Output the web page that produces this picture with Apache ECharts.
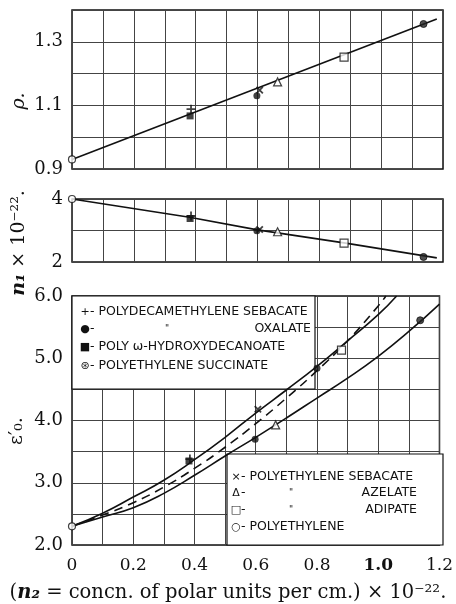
<!DOCTYPE html>
<html>
<head>
<meta charset="utf-8">
<script src="https://cdn.jsdelivr.net/npm/echarts@6/dist/echarts.min.js"></script>
<style>
  html, body { margin: 0; padding: 0; background: #fff; }
  #chart { width: 456px; height: 604px; }
</style>
</head>
<body>
<div id="chart"></div>
<script>
// ---------------- DATA ----------------
const materials = [
  'Polydecamethylene sebacate', 'Polydecamethylene oxalate', 'Poly ω-hydroxydecanoate',
  'Polyethylene succinate', 'Polyethylene sebacate', 'Polyethylene azelate',
  'Polyethylene adipate', 'Polyethylene'
];
const n2  = [0.385, 0.598, 0.382, 1.137, 0.607, 0.665, 0.880, 0.0];
const rho = [1.088, 1.130, 1.067, 1.356, 1.148, 1.174, 1.252, 0.930];
const n1  = [3.46, 2.99, 3.38, 2.16, 3.03, 2.96, 2.60, 4.00];
const eps = [3.38, 3.70, 3.35, 5.61, 4.18, 3.93, 5.13, 2.30];
// extra unlabeled point in the dielectric panel
const extraN2 = [0.80];
const extraEps = [4.84];

// fitted curves
const rhoFitX = [0, 1.18];
const rhoFitY = [0.93, 1.372];
const n1FitX = [0, 0.38, 0.6, 0.885, 1.18];
const n1FitY = [4.0, 3.42, 3.02, 2.60, 2.13];
const upperX = [0, 0.1, 0.2, 0.3, 0.4, 0.5, 0.6, 0.7, 0.8, 0.9, 1.0, 1.06];
const upperY = [2.3, 2.51, 2.77, 3.04, 3.37, 3.73, 4.12, 4.49, 4.87, 5.28, 5.70, 6.0];
const dashX  = [0, 0.1, 0.2, 0.3, 0.4, 0.5, 0.6, 0.7, 0.8, 0.9, 1.0, 1.025];
const dashY  = [2.3, 2.48, 2.68, 2.93, 3.23, 3.57, 3.95, 4.36, 4.80, 5.28, 5.84, 6.0];
const lowerX = [0, 0.1, 0.2, 0.3, 0.4, 0.5, 0.6, 0.7, 0.8, 0.9, 1.0, 1.1, 1.2];
const lowerY = [2.3, 2.45, 2.60, 2.83, 3.12, 3.43, 3.73, 4.04, 4.36, 4.68, 5.03, 5.43, 5.87];

// tick labels
const xTickLabels = ['0', '0.2', '0.4', '0.6', '0.8', '1.0', '1.2'];
const rhoTickLabels = ['0.9', '1.1', '1.3'];
const n1TickLabels = ['2', '4'];
const epsTickLabels = ['2.0', '3.0', '4.0', '5.0', '6.0'];

// texts
const legend1 = [
  ['+', '- POLYDECAMETHYLENE SEBACATE', '', ''],
  ['●', '-', '"', 'OXALATE'],
  ['■', '- POLY ω-HYDROXYDECANOATE', '', ''],
  ['⊛', '- POLYETHYLENE SUCCINATE', '', '']
];
const legend2 = [
  ['×', '- POLYETHYLENE SEBACATE', '', ''],
  ['Δ', '-', '"', 'AZELATE'],
  ['□', '-', '"', 'ADIPATE'],
  ['○', '- POLYETHYLENE', '', '']
];
const xTitleParts = ['(', 'n₂', ' = concn. of polar units per cm.) × 10⁻²².'];
const yTitles = ['ρ.', 'n₁', ' × 10⁻²².', 'ε′₀.'];

// ---------------- STYLE ----------------
const SERIF = 'DejaVu Serif';
const SANS = 'DejaVu Sans';
const plusPath = 'path://M0,4 L10,4 L10,6 L0,6 Z M4,0 L6,0 L6,10 L4,10 Z';
const markers = [
  { symbol: plusPath, size: 9, rotate: 0, itemStyle: { color: '#111' } },
  { symbol: 'circle', size: 7, rotate: 0, itemStyle: { color: '#111' } },
  { symbol: 'rect', size: 7, rotate: 0, itemStyle: { color: '#111' } },
  { symbol: 'circle', size: 7, rotate: 0, itemStyle: { color: '#222', borderColor: '#111', borderWidth: 1 } },
  { symbol: plusPath, size: 9, rotate: 45, itemStyle: { color: '#111' } },
  { symbol: 'triangle', size: 8, rotate: 0, itemStyle: { color: '#fff', borderColor: '#111', borderWidth: 1.2 } },
  { symbol: 'rect', size: 8, rotate: 0, itemStyle: { color: '#fff', borderColor: '#111', borderWidth: 1.2 } },
  { symbol: 'circle', size: 7, rotate: 0, itemStyle: { color: '#fff', borderColor: '#111', borderWidth: 1.2 } }
];

const gridLeft = 72, gridWidth = 371;
const grids = [
  { left: gridLeft, top: 10, width: gridWidth, height: 159 },
  { left: gridLeft, top: 199, width: gridWidth, height: 63 },
  { left: gridLeft, top: 296, width: gridWidth, height: 249 }
].map(g => Object.assign(g, { show: true, borderColor: '#111', borderWidth: 1.5, backgroundColor: 'transparent' }));

const splitLine = { show: true, lineStyle: { color: '#444', width: 1 } };

function xAxis(idx, showLabels) {
  return {
    type: 'value', gridIndex: idx, min: 0, max: 1.2, interval: 0.1,
    axisLine: { show: false }, axisTick: { show: false }, splitLine,
    axisLabel: {
      show: showLabels, margin: 12, color: '#111', fontFamily: SERIF, fontSize: 17,
      formatter: v => {
        const i = Math.round(v * 10);
        if (i % 2 !== 0) return '';
        const s = xTickLabels[i / 2];
        return s === '1.0' ? '{b|' + s + '}' : s;
      },
      rich: { b: { fontFamily: SERIF, fontSize: 17, fontWeight: 'bold', color: '#111' } }
    }
  };
}
function yAxis(idx, min, max, interval, labels, digits) {
  return {
    type: 'value', gridIndex: idx, min, max, interval,
    axisLine: { show: false }, axisTick: { show: false }, splitLine,
    axisLabel: {
      margin: 9, color: '#111', fontFamily: SERIF, fontSize: 18,
      formatter: v => { const s = v.toFixed(digits); return labels.includes(s) ? s : ''; }
    }
  };
}

function zip(xs, ys) { return xs.map((x, i) => [x, ys[i]]); }

function pointSeries(idx, ys) {
  return {
    type: 'scatter', xAxisIndex: idx, yAxisIndex: idx, z: 5,
    data: n2.map((x, i) => ({
      name: materials[i], value: [x, ys[i]],
      symbol: markers[i].symbol, symbolSize: markers[i].size, symbolRotate: markers[i].rotate,
      itemStyle: markers[i].itemStyle
    })),
    emphasis: { disabled: true }
  };
}
function lineSeries(idx, xs, ys, type, smooth) {
  return {
    type: 'line', xAxisIndex: idx, yAxisIndex: idx, z: 4,
    data: zip(xs, ys), showSymbol: false, smooth: smooth,
    lineStyle: { color: '#111', width: 1.6, type: type || 'solid', dashOffset: 0 },
    emphasis: { disabled: true }
  };
}

// legend graphics
function legendGraphic(box, rows, rowYs, symX, textX, dittoX, rightX) {
  const els = [{
    type: 'rect', z: 1, shape: { x: box.x, y: box.y, width: box.w, height: box.h },
    style: { fill: '#fff', stroke: '#111', lineWidth: 1.2 }
  }];
  rows.forEach((r, i) => {
    const y = rowYs[i];
    const ts = { fontFamily: SANS, fontSize: 12.5, fill: '#111', verticalAlign: 'middle' };
    els.push({ type: 'text', z: 10, x: symX, y, style: Object.assign({}, ts, { text: r[0], align: 'center', fontSize: 11 }) });
    els.push({ type: 'text', z: 10, x: textX, y, style: Object.assign({}, ts, { text: r[1], align: 'left' }) });
    if (r[2]) els.push({ type: 'text', z: 10, x: dittoX, y, style: Object.assign({}, ts, { text: r[2], align: 'center', fontSize: 9 }) });
    if (r[3]) els.push({ type: 'text', z: 10, x: rightX, y, style: Object.assign({}, ts, { text: r[3], align: 'right' }) });
  });
  return els;
}

const graphics = [].concat(
  legendGraphic({ x: 72, y: 296, w: 243, h: 93 }, legend1, [312, 329, 347, 366], 85, 90, 167, 311),
  legendGraphic({ x: 227, y: 454, w: 216, h: 91 }, legend2, [477, 493, 510, 527], 236, 241, 291, 417),
  [
    { type: 'text', z: 10, x: 19, y: 101, rotation: Math.PI / 2,
      style: { text: yTitles[0], fontFamily: SERIF, fontStyle: 'italic', fontSize: 19, fill: '#111', align: 'center', verticalAlign: 'middle' } },
    { type: 'text', z: 10, x: 19, y: 243, rotation: Math.PI / 2,
      style: { text: '{i|' + yTitles[1] + '}' + yTitles[2], fontFamily: SERIF, fontSize: 19, fill: '#111', align: 'center', verticalAlign: 'middle',
        rich: { i: { fontFamily: SERIF, fontStyle: 'italic', fontWeight: 'bold', fontSize: 19, fill: '#111' } } } },
    { type: 'text', z: 10, x: 17, y: 431, rotation: Math.PI / 2,
      style: { text: yTitles[3], fontFamily: SERIF, fontSize: 19, fill: '#111', align: 'center', verticalAlign: 'middle' } },
    { type: 'text', z: 10, x: 228, y: 593,
      style: { text: xTitleParts[0] + '{i|' + xTitleParts[1] + '}' + xTitleParts[2], fontFamily: SERIF, fontSize: 19.5, fill: '#111', align: 'center', verticalAlign: 'middle',
        rich: { i: { fontFamily: SERIF, fontStyle: 'italic', fontWeight: 'bold', fontSize: 19.5, fill: '#111' } } } }
  ]
);

const option = {
  backgroundColor: '#fff',
  animation: false,
  grid: grids,
  xAxis: [xAxis(0, false), xAxis(1, false), xAxis(2, true)],
  yAxis: [
    yAxis(0, 0.9, 1.4, 0.1, rhoTickLabels, 1),
    yAxis(1, 2, 4, 1, n1TickLabels, 0),
    yAxis(2, 2, 6, 0.5, epsTickLabels, 1)
  ],
  graphic: { elements: graphics },
  series: [
    lineSeries(0, rhoFitX, rhoFitY, 'solid', false),
    lineSeries(1, n1FitX, n1FitY, 'solid', false),
    lineSeries(2, upperX, upperY, 'solid', true),
    lineSeries(2, dashX, dashY, [9, 6], true),
    lineSeries(2, lowerX, lowerY, 'solid', true),
    pointSeries(0, rho),
    pointSeries(1, n1),
    pointSeries(2, eps),
    {
      type: 'scatter', xAxisIndex: 2, yAxisIndex: 2, z: 5,
      data: zip(extraN2, extraEps), symbol: 'circle', symbolSize: 7,
      itemStyle: { color: '#111' }, emphasis: { disabled: true }
    }
  ]
};

const chart = echarts.init(document.getElementById('chart'), null, { renderer: 'canvas' });
chart.setOption(option);
</script>
</body>
</html>
